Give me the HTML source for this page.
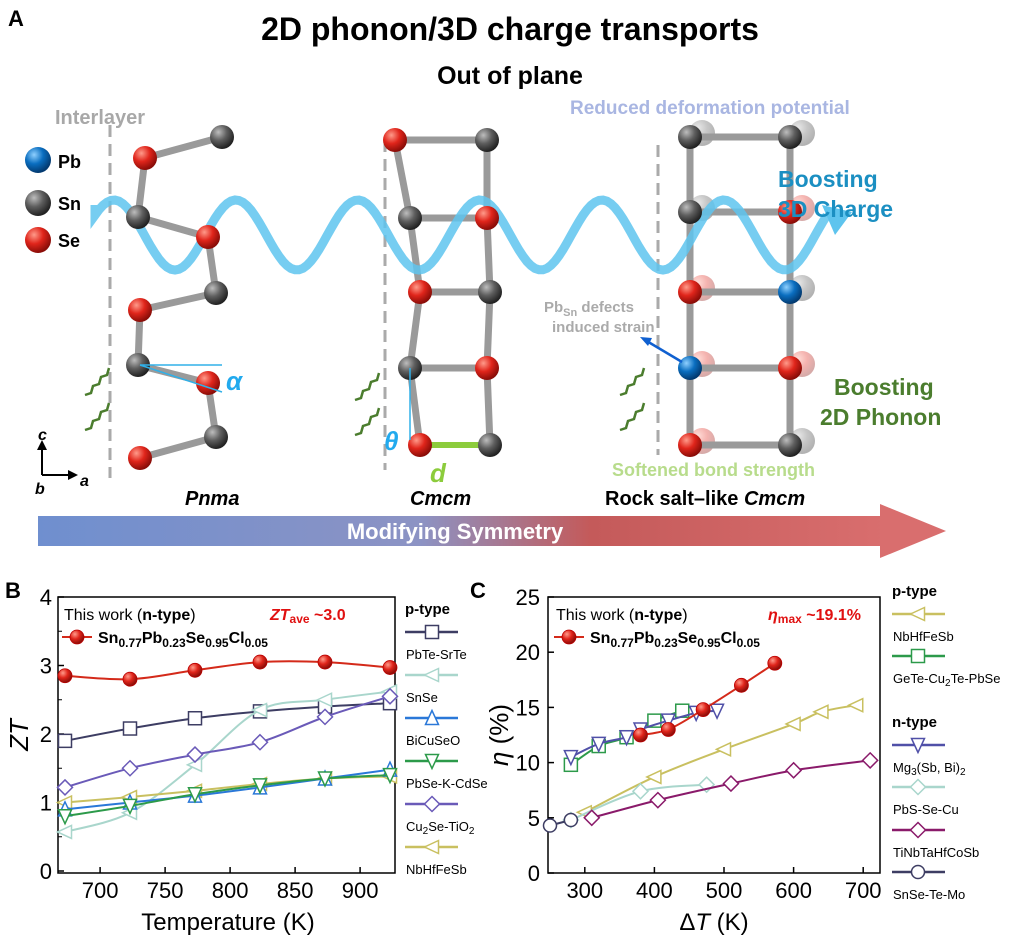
<!DOCTYPE html>
<html><head><meta charset="utf-8">
<style>
html,body{margin:0;padding:0;background:#fff;}
svg{display:block;font-family:"Liberation Sans",Arial,sans-serif;}
</style></head>
<body>
<svg id="s" width="1014" height="941" viewBox="0 0 1014 941" xmlns="http://www.w3.org/2000/svg">
<defs>
<radialGradient id="gr" cx="35%" cy="30%" r="70%"><stop offset="0" stop-color="#ff9a8a"/><stop offset="0.5" stop-color="#e0251b"/><stop offset="1" stop-color="#8a0d08"/></radialGradient>
<radialGradient id="gg" cx="35%" cy="30%" r="70%"><stop offset="0" stop-color="#bdbdbd"/><stop offset="0.5" stop-color="#5e5e5e"/><stop offset="1" stop-color="#222"/></radialGradient>
<radialGradient id="gb" cx="35%" cy="30%" r="70%"><stop offset="0" stop-color="#8fd0ff"/><stop offset="0.5" stop-color="#0a6ec0"/><stop offset="1" stop-color="#033a70"/></radialGradient>
<linearGradient id="bar" x1="0" x2="1" y1="0" y2="0"><stop offset="0" stop-color="#6f8fcf"/><stop offset="0.45" stop-color="#8c93c4"/><stop offset="0.65" stop-color="#c45a5a"/><stop offset="1" stop-color="#d96e6e"/></linearGradient>
</defs>
<g id="A"></g>
<g id="B"></g>
<g id="C"></g>
</svg>
<script>
const NS="http://www.w3.org/2000/svg";
function el(p,t,a,txt){const e=document.createElementNS(NS,t);for(const k in a)e.setAttribute(k,a[k]);if(txt!==undefined)e.innerHTML=txt;p.appendChild(e);return e;}
const A=document.getElementById('A'),B=document.getElementById('B'),C=document.getElementById('C');
el(A,'text',{x:8,y:26,'font-size':22,'font-weight':'bold'},'A');
el(A,'text',{x:510,y:40,'font-size':32,'font-weight':'bold','text-anchor':'middle'},'2D phonon/3D charge transports');
el(A,'text',{x:510,y:84,'font-size':25,'font-weight':'bold','text-anchor':'middle'},'Out of plane');
[[110,125,478],[385,140,470],[658,145,455]].forEach(d=>el(A,'line',{x1:d[0],y1:d[1],x2:d[0],y2:d[2],stroke:'#aaa','stroke-width':3,'stroke-dasharray':'12,7'}));
el(A,'text',{x:55,y:124,'font-size':20,'font-weight':'bold',fill:'#a8a8a8'},'Interlayer');
el(A,'text',{x:570,y:114,'font-size':19,'font-weight':'bold',fill:'#a9b6e2'},'Reduced deformation potential');
function bond(x1,y1,x2,y2,c,o){el(A,'line',{x1,y1,x2,y2,stroke:c||'#9a9a9a','stroke-width':7,opacity:o||1,'stroke-linecap':'round'});}
function atom(x,y,t,r,o){el(A,'circle',{cx:x,cy:y,r:r||12,fill:'url(#g'+t+')',opacity:o||1});}
const pn=[[222,137,'g'],[145,158,'r'],[138,217,'g'],[208,237,'r'],[216,293,'g'],[140,310,'r'],[138,365,'g'],[208,383,'r'],[216,437,'g'],[140,458,'r']];
for(let i=0;i<pn.length-1;i++)bond(pn[i][0],pn[i][1],pn[i+1][0],pn[i+1][1]);
const cl=[[395,140,'r'],[410,218,'g'],[420,292,'r'],[410,368,'g'],[420,445,'r']];
const cr=[[487,140,'g'],[487,218,'r'],[490,292,'g'],[487,368,'r'],[490,445,'g']];
for(let i=0;i<4;i++){bond(cl[i][0],cl[i][1],cl[i+1][0],cl[i+1][1]);bond(cr[i][0],cr[i][1],cr[i+1][0],cr[i+1][1]);}
for(let i=0;i<4;i++)bond(cl[i][0],cl[i][1],cr[i][0],cr[i][1]);
el(A,'line',{x1:420,y1:445,x2:490,y2:445,stroke:'#8ccc3c','stroke-width':6});
const rl=[[690,137,'g'],[690,212,'g'],[690,292,'r'],[690,368,'b'],[690,445,'r']];
const rr=[[790,137,'g'],[790,212,'r'],[790,292,'b'],[790,368,'r'],[790,445,'g']];
rl.forEach(p=>atom(p[0]+12,p[1]-4,p[2]=='b'?'r':p[2],13,0.35));rr.forEach(p=>atom(p[0]+12,p[1]-4,p[2]=='b'?'g':p[2],13,0.35));
for(let i=0;i<4;i++){bond(690,rl[i][1],690,rl[i+1][1]);bond(790,rr[i][1],790,rr[i+1][1]);}
for(let i=0;i<5;i++)bond(690,rl[i][1],790,rr[i][1]);
let d='M95,205';for(let x=95;x<=830;x+=4){const y=235-35*Math.sin((x-95)/122*2*Math.PI+0.6);d+=' L'+x+','+y.toFixed(1);}
el(A,'path',{d,fill:'none',stroke:'#5ec4ee','stroke-width':9,opacity:0.85});
el(A,'polygon',{points:'822,205 852,212 835,235',fill:'#5ec4ee'});
[...pn,...cl,...cr,...rl,...rr].forEach(p=>atom(p[0],p[1],p[2]));
atom(38,160,'b',13);atom(38,203,'g',13);atom(38,240,'r',13);
el(A,'text',{x:58,y:168,'font-size':18,'font-weight':'bold'},'Pb');
el(A,'text',{x:58,y:210,'font-size':18,'font-weight':'bold'},'Sn');
el(A,'text',{x:58,y:247,'font-size':18,'font-weight':'bold'},'Se');
el(A,'line',{x1:140,y1:365,x2:222,y2:365,stroke:'#30b0e8','stroke-width':1.5});
el(A,'line',{x1:140,y1:365,x2:222,y2:392,stroke:'#30b0e8','stroke-width':1.5});
el(A,'text',{x:226,y:390,'font-size':26,'font-weight':'bold','font-style':'italic',fill:'#22aaee'},'α');
el(A,'line',{x1:410,y1:368,x2:410,y2:440,stroke:'#30b0e8','stroke-width':1.5});
el(A,'text',{x:384,y:450,'font-size':26,'font-weight':'bold','font-style':'italic',fill:'#22aaee'},'θ');
el(A,'text',{x:430,y:482,'font-size':26,'font-weight':'bold','font-style':'italic',fill:'#8ccc3c'},'d');
el(A,'text',{x:778,y:187,'font-size':23,'font-weight':'bold',fill:'#1b8fc2'},'Boosting');
el(A,'text',{x:778,y:217,'font-size':23,'font-weight':'bold',fill:'#1b8fc2'},'3D Charge');
el(A,'text',{x:834,y:395,'font-size':23,'font-weight':'bold',fill:'#4b7d2e'},'Boosting');
el(A,'text',{x:820,y:425,'font-size':23,'font-weight':'bold',fill:'#4b7d2e'},'2D Phonon');
el(A,'text',{x:612,y:476,'font-size':18,'font-weight':'bold',fill:'#b8dc8c'},'Softened bond strength');
el(A,'text',{x:544,y:312,'font-size':15,'font-weight':'bold',fill:'#aaa'},'Pb<tspan font-size="11" dy="4">Sn</tspan><tspan dy="-4"> defects</tspan>');
el(A,'text',{x:552,y:332,'font-size':15,'font-weight':'bold',fill:'#aaa'},'induced strain');
el(A,'line',{x1:645,y1:340,x2:682,y2:362,stroke:'#1060d0','stroke-width':2.5});
el(A,'polygon',{points:'640,337 652,338 648,346',fill:'#1060d0'});
el(A,'text',{x:185,y:505,'font-size':20,'font-weight':'bold','font-style':'italic'},'Pnma');
el(A,'text',{x:410,y:505,'font-size':20,'font-weight':'bold','font-style':'italic'},'Cmcm');
el(A,'text',{x:605,y:505,'font-size':20,'font-weight':'bold'},'Rock salt–like <tspan font-style="italic">Cmcm</tspan>');
function wig(x,y){let p='M'+x+','+y;for(let i=1;i<=6;i++)p+=' l'+(i%2?6:2)+','+(i%2?-2:-7);el(A,'path',{d:p,fill:'none',stroke:'#4b7d2e','stroke-width':2.5});}
wig(85,430);wig(85,395);wig(355,435);wig(355,400);wig(620,430);wig(620,395);
el(A,'line',{x1:42,y1:475,x2:42,y2:448,stroke:'#000','stroke-width':2});el(A,'polygon',{points:'37,450 47,450 42,440'});
el(A,'line',{x1:42,y1:475,x2:70,y2:475,stroke:'#000','stroke-width':2});el(A,'polygon',{points:'68,470 68,480 78,475'});
el(A,'text',{x:38,y:440,'font-size':16,'font-weight':'bold','font-style':'italic'},'c');
el(A,'text',{x:35,y:494,'font-size':16,'font-weight':'bold','font-style':'italic'},'b');
el(A,'text',{x:80,y:486,'font-size':16,'font-weight':'bold','font-style':'italic'},'a');
el(A,'rect',{x:38,y:516,width:850,height:30,fill:'url(#bar)'});
el(A,'polygon',{points:'880,504 946,531 880,558',fill:'#d96e6e'});
el(A,'text',{x:455,y:539,'font-size':22,'font-weight':'bold',fill:'#fff','text-anchor':'middle'},'Modifying Symmetry');

const RED='#d42a1a';
function mk(g,x,y,t,c){const s=6.5;
 if(t=='o'){const r=c==RED;el(g,'circle',{cx:x,cy:y,r:r?7:s,fill:r?'url(#gr)':'#fff',stroke:r?'#b00':c,'stroke-width':r?0.8:1.5});}
 else if(t=='s')el(g,'rect',{x:x-s,y:y-s,width:2*s,height:2*s,fill:'#fff',stroke:c,'stroke-width':1.5});
 else{let pts;if(t=='<')pts=[[x-s-1,y],[x+s,y-s],[x+s,y+s]];if(t=='^')pts=[[x,y-s-1],[x-s,y+s],[x+s,y+s]];if(t=='v')pts=[[x,y+s+1],[x-s,y-s],[x+s,y-s]];if(t=='d')pts=[[x,y-s-1],[x+s+1,y],[x,y+s+1],[x-s-1,y]];
 el(g,'polygon',{points:pts.map(p=>p.join(',')).join(' '),fill:'#fff',stroke:c,'stroke-width':1.5});}}
function smooth(pts){let d='M'+pts[0].join(',');for(let i=0;i<pts.length-1;i++){const p0=pts[i-1]||pts[i],p1=pts[i],p2=pts[i+1],p3=pts[i+2]||p2;
 const c1=[p1[0]+(p2[0]-p0[0])/6,p1[1]+(p2[1]-p0[1])/6],c2=[p2[0]-(p3[0]-p1[0])/6,p2[1]-(p3[1]-p1[1])/6];d+=' C'+c1.join(',')+' '+c2.join(',')+' '+p2.join(',');}return d;}
function plot(g,fx,fy,series){series.forEach(s=>{const pts=s.d.map(p=>[fx(p[0]),fy(p[1])]);el(g,'path',{d:smooth(pts),fill:'none',stroke:s.c,'stroke-width':2});pts.forEach(p=>mk(g,p[0],p[1],s.m,s.c));});}
function axes(g,x0,x1,y0,y1){el(g,'rect',{x:x0,y:y0,width:x1-x0,height:y1-y0,fill:'none',stroke:'#000','stroke-width':1.5});}

const bx=T=>65+(T-673)*1.3,by=v=>871-v*68.5;
el(B,'text',{x:5,y:598,'font-size':22,'font-weight':'bold'},'B');
axes(B,58,395,597,873);
for(let v=0;v<=4;v++){el(B,'line',{x1:58,y1:by(v),x2:64,y2:by(v),stroke:'#000','stroke-width':1.5});el(B,'text',{x:52,y:by(v)+8,'font-size':22,'text-anchor':'end'},v);if(v<4){el(B,'line',{x1:58,y1:by(v+.5),x2:62,y2:by(v+.5),stroke:'#000'});}}
for(let T=700;T<=900;T+=50){el(B,'line',{x1:bx(T),y1:873,x2:bx(T),y2:867,stroke:'#000','stroke-width':1.5});el(B,'text',{x:bx(T),y:898,'font-size':22,'text-anchor':'middle'},T);}
el(B,'text',{x:228,y:930,'font-size':24,'text-anchor':'middle'},'Temperature (K)');
el(B,'text',{x:0,y:0,'font-size':26,'font-style':'italic','text-anchor':'middle',transform:'translate(28,735) rotate(-90)'},'ZT');
const T6=[673,723,773,823,873,923];const z=a=>a.map((v,i)=>[T6[i],v]);
plot(B,bx,by,[
{c:'#3d3d63',m:'s',d:z([1.9,2.08,2.23,2.33,2.4,2.45])},
{c:'#a9d6cc',m:'<',d:z([0.57,0.85,1.55,2.35,2.5,2.62])},
{c:'#c9c060',m:'<',d:z([1.0,1.08,1.17,1.27,1.35,1.38])},
{c:'#2a78d8',m:'^',d:z([0.9,1.0,1.1,1.22,1.35,1.48])},
{c:'#2c9a4a',m:'v',d:z([0.8,0.95,1.12,1.25,1.35,1.4])},
{c:'#6a5ab8',m:'d',d:z([1.22,1.5,1.7,1.88,2.25,2.55])},
{c:RED,m:'o',d:z([2.85,2.8,2.93,3.05,3.05,2.97])}]);
el(B,'text',{x:64,y:620,'font-size':16},'This work (<tspan font-weight="bold">n-type</tspan>)');
el(B,'text',{x:270,y:620,'font-size':16,'font-weight':'bold',fill:'#e01010'},'<tspan font-style="italic">ZT</tspan><tspan font-size="12" dy="3">ave</tspan><tspan dy="-3"> ~3.0</tspan>');
el(B,'line',{x1:62,y1:637,x2:92,y2:637,stroke:RED,'stroke-width':2});mk(B,77,637,'o',RED);
el(B,'text',{x:98,y:643,'font-size':16,'font-weight':'bold'},'Sn<tspan font-size="12" dy="4">0.77</tspan><tspan dy="-4">Pb</tspan><tspan font-size="12" dy="4">0.23</tspan><tspan dy="-4">Se</tspan><tspan font-size="12" dy="4">0.95</tspan><tspan dy="-4">Cl</tspan><tspan font-size="12" dy="4">0.05</tspan>');
el(B,'text',{x:405,y:614,'font-size':15,'font-weight':'bold'},'p-type');
[['PbTe-SrTe','#3d3d63','s'],['SnSe','#a9d6cc','<'],['BiCuSeO','#2a78d8','^'],['PbSe-K-CdSe','#2c9a4a','v'],['Cu<tspan font-size="10" dy="3">2</tspan><tspan dy="-3">Se-TiO</tspan><tspan font-size="10" dy="3">2</tspan>','#6a5ab8','d'],['NbHfFeSb','#c9c060','<']].forEach((l,i)=>{const y=632+i*43;
el(B,'line',{x1:405,y1:y,x2:458,y2:y,stroke:l[1],'stroke-width':2.5});mk(B,432,y,l[2],l[1]);el(B,'text',{x:406,y:y+27,'font-size':13},l[0]);});

const cx=T=>376+T*0.696,cy=v=>873-v*11.04;
el(C,'text',{x:470,y:598,'font-size':22,'font-weight':'bold'},'C');
axes(C,548,880,597,873);
for(let v=0;v<=25;v+=5){el(C,'line',{x1:548,y1:cy(v),x2:554,y2:cy(v),stroke:'#000','stroke-width':1.5});el(C,'text',{x:540,y:cy(v)+8,'font-size':22,'text-anchor':'end'},v);}
for(let T=300;T<=700;T+=100){el(C,'line',{x1:cx(T),y1:873,x2:cx(T),y2:867,stroke:'#000','stroke-width':1.5});el(C,'text',{x:cx(T),y:898,'font-size':22,'text-anchor':'middle'},T);}
el(C,'text',{x:714,y:930,'font-size':24,'text-anchor':'middle'},'Δ<tspan font-style="italic">T</tspan> (K)');
el(C,'text',{x:0,y:0,'font-size':26,'text-anchor':'middle',transform:'translate(508,735) rotate(-90)'},'<tspan font-style="italic">η</tspan> (%)');
plot(C,cx,cy,[
{c:'#c9c060',m:'<',d:[[300,5.5],[400,8.7],[500,11.2],[600,13.5],[640,14.6],[690,15.2]]},
{c:'#a9d6cc',m:'d',d:[[280,4.8],[380,7.4],[475,8.0]]},
{c:'#8a1a6a',m:'d',d:[[310,5.0],[405,6.6],[510,8.1],[600,9.3],[710,10.2]]},
{c:'#3d3d63',m:'o',d:[[250,4.3],[280,4.8]]},
{c:'#2c9a4a',m:'s',d:[[280,9.8],[320,11.5],[360,12.3],[400,13.8],[440,14.7]]},
{c:'#5050a8',m:'v',d:[[280,10.5],[320,11.7],[360,12.3],[380,13],[420,13.8],[460,14.5],[490,14.7]]},
{c:RED,m:'o',d:[[380,12.5],[420,13],[470,14.8],[525,17],[573,19]]}]);
el(C,'text',{x:556,y:620,'font-size':16},'This work (<tspan font-weight="bold">n-type</tspan>)');
el(C,'text',{x:768,y:620,'font-size':16,'font-weight':'bold',fill:'#e01010'},'<tspan font-style="italic">η</tspan><tspan font-size="12" dy="3">max</tspan><tspan dy="-3"> ~19.1%</tspan>');
el(C,'line',{x1:554,y1:637,x2:584,y2:637,stroke:RED,'stroke-width':2});mk(C,569,637,'o',RED);
el(C,'text',{x:590,y:643,'font-size':16,'font-weight':'bold'},'Sn<tspan font-size="12" dy="4">0.77</tspan><tspan dy="-4">Pb</tspan><tspan font-size="12" dy="4">0.23</tspan><tspan dy="-4">Se</tspan><tspan font-size="12" dy="4">0.95</tspan><tspan dy="-4">Cl</tspan><tspan font-size="12" dy="4">0.05</tspan>');
el(C,'text',{x:892,y:596,'font-size':15,'font-weight':'bold'},'p-type');
el(C,'text',{x:892,y:727,'font-size':15,'font-weight':'bold'},'n-type');
[[614,'NbHfFeSb','#c9c060','<'],[656,'GeTe-Cu<tspan font-size="10" dy="3">2</tspan><tspan dy="-3">Te-PbSe</tspan>','#2c9a4a','s'],[745,'Mg<tspan font-size="10" dy="3">3</tspan><tspan dy="-3">(Sb, Bi)</tspan><tspan font-size="10" dy="3">2</tspan>','#5050a8','v'],[787,'PbS-Se-Cu','#a9d6cc','d'],[830,'TiNbTaHfCoSb','#8a1a6a','d'],[872,'SnSe-Te-Mo','#3d3d63','o']].forEach(l=>{const y=l[0];
el(C,'line',{x1:892,y1:y,x2:945,y2:y,stroke:l[2],'stroke-width':2.5});mk(C,918,y,l[3],l[2]);el(C,'text',{x:893,y:y+27,'font-size':13},l[1]);});
</script>
</body></html>
